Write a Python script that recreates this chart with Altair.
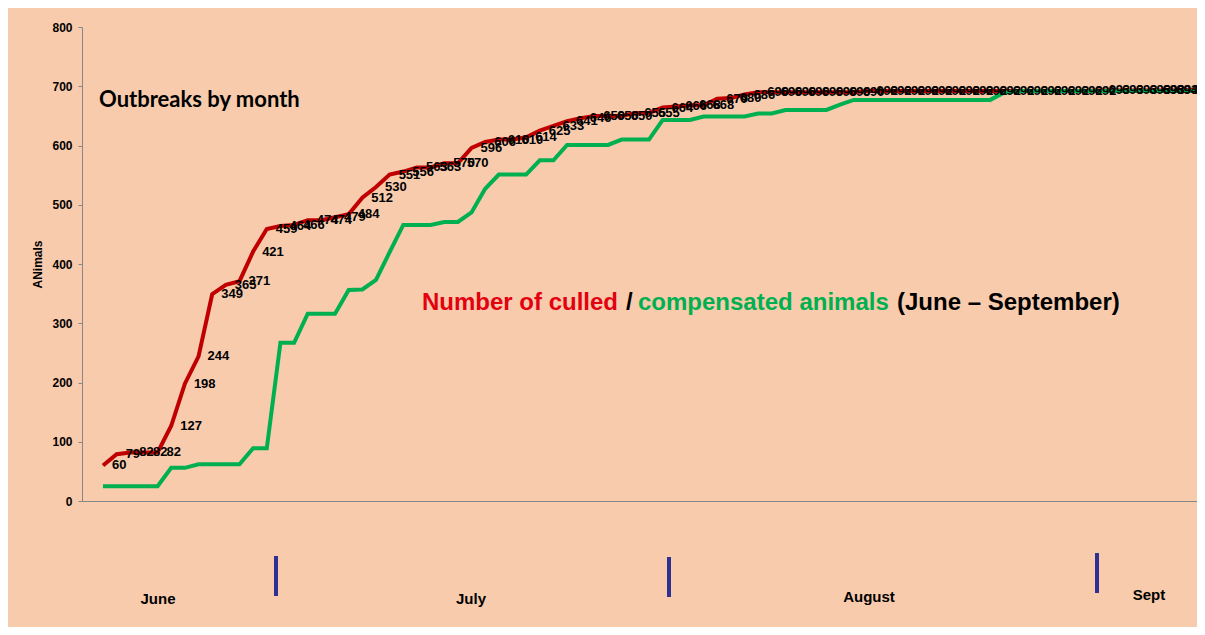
import altair as alt
import pandas as pd

# ---- data (one point per outbreak day, in order) ----
day = list(range(81))
culled = [60, 79, 82, 82, 82, 127, 198, 244, 349, 365,
          371, 421, 459, 464, 466, 474, 474, 479, 484, 512,
          530, 551, 556, 563, 563, 570, 570, 596, 606, 610,
          610, 614, 625, 633, 641, 646, 650, 650, 650, 655,
          655, 664, 666, 668, 668, 679, 680, 686, 690, 690,
          690, 690, 690, 690, 690, 690, 692, 692, 692, 692,
          692, 692, 692, 692, 692, 692, 692, 692, 692, 692,
          692, 692, 692, 693, 693, 693, 693, 693, 693, 693,
          694]
compensated = [25, 25, 25, 25, 25, 56, 56, 62, 62, 62,
               62, 89, 89, 267, 267, 316, 316, 316, 356, 357,
               373, 420, 466, 466, 466, 471, 471, 487, 527, 551,
               551, 551, 575, 575, 601, 601, 601, 601, 610, 610,
               610, 643, 643, 643, 649, 649, 649, 649, 654, 654,
               660, 660, 660, 660, 669, 677, 677, 677, 677, 677,
               677, 677, 677, 677, 677, 677, 689, 692, 692, 692,
               692, 692, 692, 692, 692, 692, 692, 692, 692, 692,
               692]
months = ["June", "July", "August", "Sept"]
y_ticks = [0, 100, 200, 300, 400, 500, 600, 700, 800]

df = pd.DataFrame({"day": day, "culled": culled, "compensated": compensated})
df["label"] = df["culled"].astype(str)
last_day = day[-1]

BG = "#F8CBAD"
RED = "#C00000"
GREEN = "#00B050"
TEXT_RED = "#E3000F"
NAVY = "#2E3192"
AXIS = "#868686"
FONT = "Liberation Sans"

xs = alt.Scale(domain=[-1.538, 80.15], nice=False, zero=False)
ys = alt.Scale(domain=[0, 800], nice=False)

x = alt.X("day:Q", scale=xs,
          axis=alt.Axis(labels=False, ticks=False, grid=False, title=None,
                        domainColor=AXIS, domainWidth=1))
y_axis = alt.Axis(values=y_ticks, grid=False, tickSize=4, tickColor=AXIS,
                  domainColor=AXIS, labelFont=FONT, labelFontWeight="bold",
                  labelFontSize=12, labelColor="black", labelPadding=6,
                  title="ANimals", titleFont=FONT, titleFontSize=12,
                  titleFontWeight="bold", titleColor="black", titleX=-45,
                  titleY=237, titleAngle=-90, titleAlign="center",
                  titleBaseline="middle")

base = alt.Chart(df)
red_line = base.mark_line(color=RED, strokeWidth=4).encode(
    x=x, y=alt.Y("culled:Q", scale=ys, axis=y_axis))
green_line = base.mark_line(color=GREEN, strokeWidth=4).encode(
    x=x, y=alt.Y("compensated:Q", scale=ys, axis=y_axis))
labels = base.transform_filter(alt.datum.day < last_day - 1).mark_text(
    align="left", baseline="middle", dx=9, font=FONT, fontWeight="bold",
    fontSize=13, color="black").encode(
    x=x, y=alt.Y("culled:Q", scale=ys, axis=y_axis), text="label:N")
end_labels = base.transform_filter(alt.datum.day >= last_day - 1).mark_text(
    align="right", baseline="middle", dx=3, font=FONT, fontWeight="bold",
    fontSize=13, color="black").encode(
    x=x, y=alt.Y("culled:Q", scale=ys, axis=y_axis), text="label:N")

one = alt.Data(values=[{}])


def note(text, px, py, color="black", size=24, font=FONT, align="left"):
    return alt.Chart(one).mark_text(text=text, align=align, baseline="middle",
                                    font=font, fontWeight="bold",
                                    fontSize=size, color=color).encode(
        x=alt.value(px), y=alt.value(py))


def bar(px, py, py2):
    return alt.Chart(one).mark_rule(color=NAVY, strokeWidth=4).encode(
        x=alt.value(px), y=alt.value(py), y2=alt.value(py2))


notes = [
    note("Outbreaks by month", 17, 73, size=22, font="Lato"),
    note("Number of culled", 340, 276, color=TEXT_RED),
    note("/", 544, 276),
    note("compensated animals", 556, 276, color=GREEN),
    note("(June \u2013 September)", 815, 276),
    note(months[0], 76, 572, size=15, align="center"),
    note(months[1], 389, 572, size=15, align="center"),
    note(months[2], 787, 570, size=15, align="center"),
    note(months[3], 1067, 568, size=15, align="center"),
    bar(194, 529, 569),
    bar(587, 530, 570),
    bar(1015, 526, 566),
]

chart = alt.layer(red_line, green_line, labels, end_labels, *notes).properties(
    width=1115, height=474,
    background=BG,
    padding={"left": 74, "top": 19, "right": 0, "bottom": 126},
    autosize=alt.AutoSizeParams(type="none"),
).configure_view(stroke=None)

chart.save("out.html", embed_options={"renderer": "svg", "actions": False})
